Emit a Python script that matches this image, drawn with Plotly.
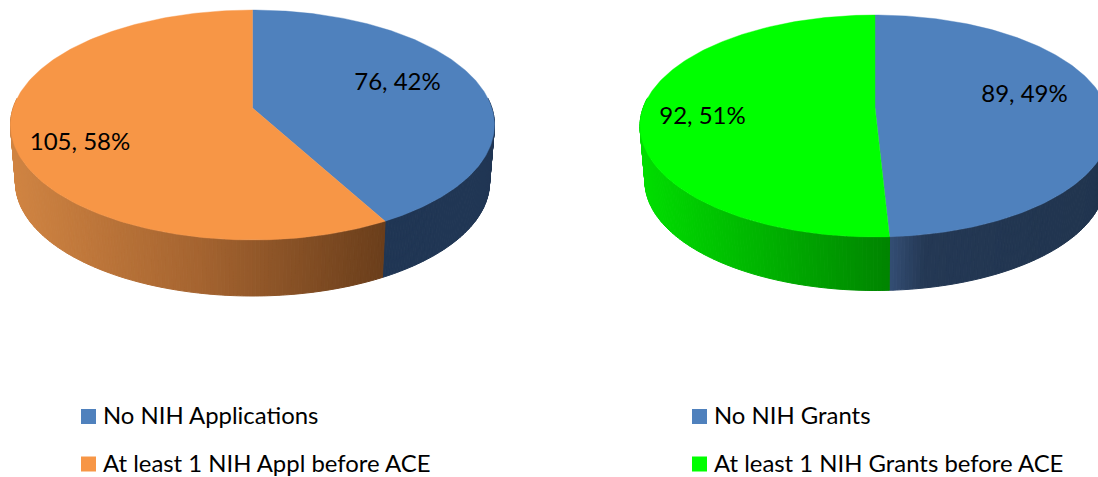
import numpy as np
import plotly.graph_objects as go

# Survey counts behind the two pies
APPL_LABELS = ["No NIH Applications", "At least 1 NIH Appl before ACE"]
APPL_VALUES = [76, 105]
GRANT_LABELS = ["No NIH Grants", "At least 1 NIH Grants before ACE"]
GRANT_VALUES = [89, 92]

BLUE = "#4F81BD"
ORANGE = "#F79646"
GREEN = "#00FF00"
LABEL_FONT = dict(family="Lato", size=24, color="#000000")
LEGEND_FONT = dict(family="Lato", size=23.9, color="#000000")


def tilt(theta, cx, cy, rx, ry, d):
    """Project an angle (clockwise from 12 o'clock) onto a receding ellipse."""
    u, v = np.sin(theta), -np.cos(theta)
    den = 1 - d * v
    return cx + rx * u * np.sqrt(1 - d * d) / den, cy + ry * (v - d) / den


def shade(stops, t):
    """Interpolate an RGB ramp at position t in [0, 1]."""
    pos = [s[0] for s in stops]
    rgb = [np.interp(t, pos, [s[1][i] for s in stops]) for i in range(3)]
    return "rgb({:.0f},{:.0f},{:.0f})".format(*rgb)


def draw_pie(fig, values, colors, ramps, top, bottom):
    total = sum(values)
    edges = 2 * np.pi * np.concatenate([[0], np.cumsum(values)]) / total

    # Side wall: thin shaded quads between the upper and lower rims,
    # with each ramp running across its own slice from left to right
    wall_lo, wall_hi = np.radians(85), np.radians(275)
    for i in range(len(values)):
        lo, hi = max(edges[i], wall_lo), min(edges[i + 1], wall_hi)
        n = max(2, int(np.degrees(hi - lo) / 0.8))
        steps = np.linspace(lo, hi, n + 1)
        span_x = tilt(steps, *top)[0]
        x0, x1 = span_x.min(), span_x.max()
        for a, b in zip(steps[:-1], steps[1:]):
            seg = np.linspace(a, b, 3)
            tx, ty = tilt(seg, *top)
            bx, by = tilt(seg[::-1], *bottom)
            xs = np.concatenate([tx, bx, tx[:1]])
            ys = np.concatenate([ty, by, ty[:1]])
            c = shade(ramps[i], (tx.mean() - x0) / (x1 - x0))
            fig.add_trace(go.Scatter(x=xs, y=ys, mode="lines", fill="toself",
                                     fillcolor=c, line=dict(color=c, width=1),
                                     hoverinfo="skip", showlegend=False))

    # Top face: one wedge per value, meeting at the projected centre
    apex = (top[0], top[1] - top[3] * top[4])
    for i in range(len(values)):
        arc = np.linspace(edges[i], edges[i + 1], 200)
        rx_, ry_ = tilt(arc, *top)
        xs = np.concatenate([[apex[0]], rx_, [apex[0]]])
        ys = np.concatenate([[apex[1]], ry_, [apex[1]]])
        fig.add_trace(go.Scatter(x=xs, y=ys, mode="lines", fill="toself",
                                 fillcolor=colors[i],
                                 line=dict(color=colors[i], width=0.4),
                                 hoverinfo="skip", showlegend=False))


def value_text(values):
    total = sum(values)
    return [f"{v}, {round(100 * v / total)}%" for v in values]


def add_labels(fig, xs, ys, texts):
    fig.add_trace(go.Scatter(x=xs, y=ys, mode="text", text=texts,
                             textposition="middle center", textfont=LABEL_FONT,
                             hoverinfo="skip", showlegend=False))


def add_key(fig, x_box, x_text, y_box, y_text, names, colors):
    fig.add_trace(go.Scatter(x=[x_box] * 2, y=y_box, mode="markers",
                             marker=dict(symbol="square", size=15, color=colors,
                                         line=dict(width=0)),
                             hoverinfo="skip", showlegend=False))
    fig.add_trace(go.Scatter(x=[x_text] * 2, y=y_text, mode="text", text=names,
                             textposition="middle right", textfont=LEGEND_FONT,
                             hoverinfo="skip", showlegend=False))


fig = go.Figure()

draw_pie(fig, APPL_VALUES, [BLUE, ORANGE],
         ramps=[
             [(0.0, (32, 54, 84)), (1.0, (32, 54, 84))],
             [(0.0, (208, 132, 66)), (0.5, (165, 100, 48)), (1.0, (106, 62, 27))],
         ],
         top=(252.5, 125, 242, 115, 0.148),
         bottom=(252.5, 182.5, 237, 113.5, 0.148))

draw_pie(fig, GRANT_VALUES, [BLUE, GREEN],
         ramps=[
             [(0.0, (52, 78, 116)), (0.16, (36, 56, 84)), (1.0, (32, 52, 78))],
             [(0.0, (0, 222, 0)), (0.5, (0, 178, 0)), (1.0, (0, 132, 0))],
         ],
         top=(875, 126, 235, 111, 0.17),
         bottom=(875, 181.5, 230, 109, 0.17))

add_labels(fig, [397.5, 80], [84, 144], value_text(APPL_VALUES))
add_labels(fig, [1024.5, 702.5], [96, 118], value_text(GRANT_VALUES))

add_key(fig, 88.5, 103, [416.5, 464], [418, 466], APPL_LABELS, [BLUE, ORANGE])
add_key(fig, 699.5, 714, [416.5, 464], [418, 466], GRANT_LABELS, [BLUE, GREEN])

fig.update_layout(
    width=1098, height=477, margin=dict(l=0, r=0, t=0, b=0),
    paper_bgcolor="#FFFFFF", plot_bgcolor="#FFFFFF",
    xaxis=dict(range=[0, 1098], visible=False, fixedrange=True),
    yaxis=dict(range=[477, 0], visible=False, fixedrange=True),
)

fig.write_html("out.html")
